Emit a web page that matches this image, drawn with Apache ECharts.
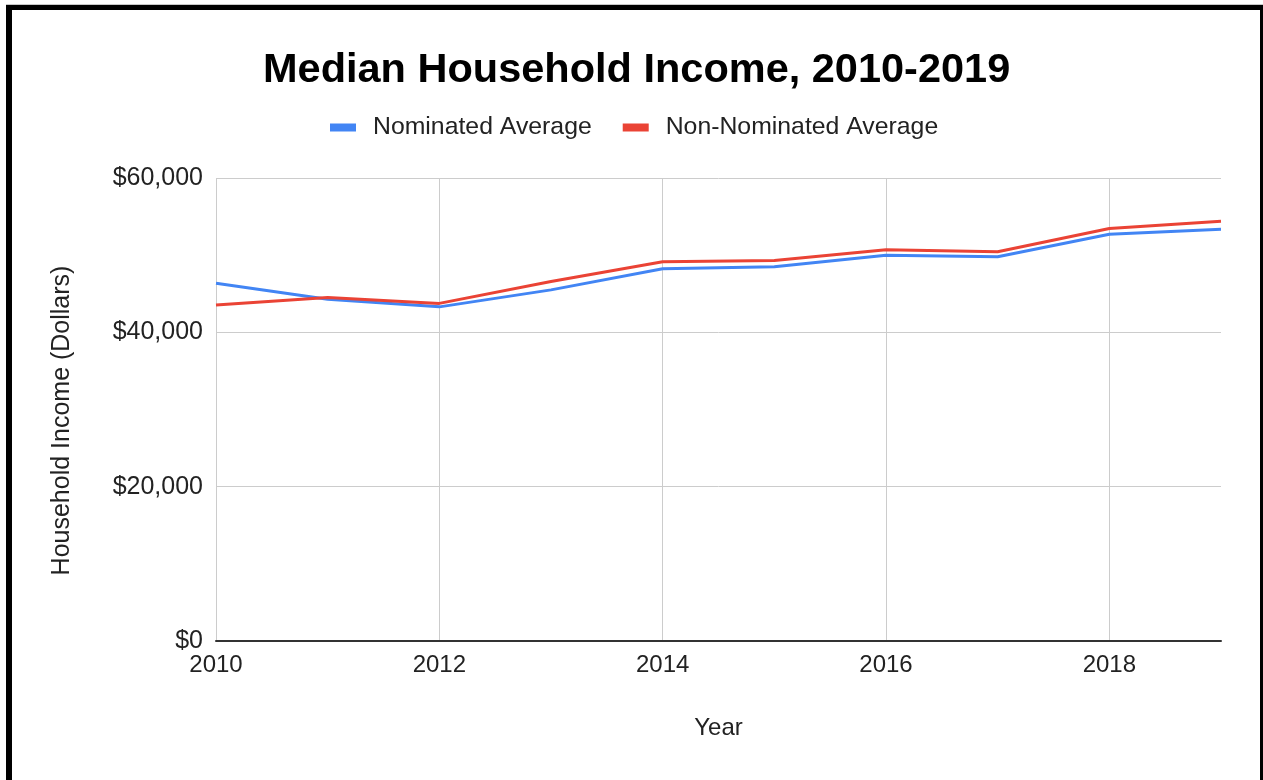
<!DOCTYPE html>
<html>
<head>
<meta charset="utf-8">
<script src="https://cdn.jsdelivr.net/npm/echarts@6/dist/echarts.min.js"></script>
<style>
  html, body { margin: 0; padding: 0; background: #fff; }
  #chart { width: 1263px; height: 780px; }
  .topline { position: absolute; left: 6px; top: 4px; width: 1257px; height: 1px; background: #c8c8c8; }
  .frame {
    position: absolute; left: 6px; top: 5px; width: 1257px; height: 800px;
    box-sizing: border-box; border: solid #000; border-width: 5px 3px 0 6px;
    pointer-events: none;
  }
</style>
</head>
<body>
<div id="chart"></div>
<div class="topline"></div>
<div class="frame"></div>
<script>
// years on the x axis
const years = ["2010", "2011", "2012", "2013", "2014", "2015", "2016", "2017", "2018", "2019"];
// values (dollars)
const nominated = [46350, 44300, 43300, 45500, 48250, 48500, 50000, 49800, 52700, 53350];
const nonNominated = [43550, 44500, 43750, 46600, 49150, 49300, 50700, 50450, 53450, 54400];
const seriesNames = ["Nominated Average", "Non-Nominated Average"];

const font = "'Liberation Sans', Arial, sans-serif";

let mycharts = echarts.init(document.getElementById("chart"));
mycharts.setOption({
  animation: false,
  textStyle: { fontFamily: font },
  title: {
    text: "Median Household Income, 2010-2019",
    left: 263,
    top: 50,
    padding: 0,
    textStyle: { fontSize: 41.5, fontWeight: "bold", color: "#000", fontFamily: font },
  },
  legend: {
    data: seriesNames,
    top: 115,
    left: 330,
    padding: 0,
    icon: "rect",
    itemWidth: 26,
    itemHeight: 8,
    itemGap: 31,
    textStyle: { fontSize: 24.8, color: "#222", fontFamily: font, padding: [0, 0, 0, 12] },
  },
  grid: {
    left: 216,
    right: 42,
    top: 178,
    bottom: 139,
  },
  xAxis: {
    type: "category",
    data: years,
    boundaryGap: false,
    name: "Year",
    nameLocation: "middle",
    nameGap: 75,
    nameTextStyle: { fontSize: 24, color: "#222", fontFamily: font },
    axisLine: { show: true, lineStyle: { color: "#333", width: 2 } },
    axisTick: { show: false },
    axisLabel: { interval: 1, fontSize: 24, color: "#222", margin: 12, fontFamily: font },
    splitLine: { show: true, interval: 1, lineStyle: { color: "#cccccc", width: 1 } },
  },
  yAxis: {
    type: "value",
    min: 0,
    max: 60000,
    interval: 20000,
    name: "Household Income (Dollars)",
    nameLocation: "middle",
    nameGap: 141,
    nameTextStyle: { fontSize: 25, color: "#222", fontFamily: font, padding: [0, 22, 0, 0] },
    axisLine: { show: false },
    axisTick: { show: false },
    axisLabel: {
      fontSize: 25,
      color: "#222",
      margin: 13,
      fontFamily: font,
      formatter: (v) => "$" + v.toLocaleString("en-US"),
    },
    splitLine: { show: true, lineStyle: { color: "#cccccc", width: 1 } },
  },
  series: [
    {
      name: seriesNames[0],
      type: "line",
      data: nominated,
      symbol: "none",
      color: "#4285F4",
      lineStyle: { color: "#4285F4", width: 3 },
    },
    {
      name: seriesNames[1],
      type: "line",
      data: nonNominated,
      symbol: "none",
      color: "#EA4335",
      lineStyle: { color: "#EA4335", width: 3 },
    },
  ],
});
</script>
</body>
</html>
